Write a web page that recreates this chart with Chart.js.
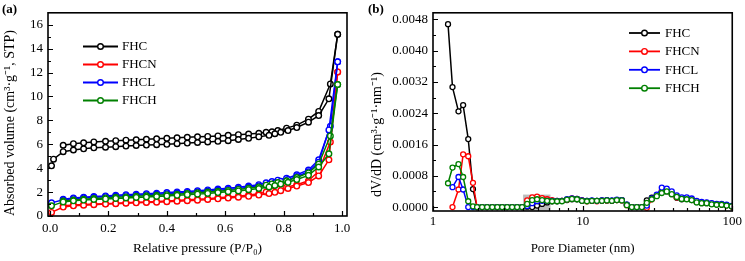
<!DOCTYPE html>
<html><head><meta charset="utf-8">
<script src="https://cdn.jsdelivr.net/npm/chart.js@4/dist/chart.umd.min.js"></script>
<style>
html,body{margin:0;padding:0;background:#fff;}
#wrap{position:relative;width:745px;height:261px;overflow:hidden;background:#fff;}
#ca{position:absolute;left:0;top:0;}
#cb{position:absolute;left:370px;top:0;}
.lab{position:absolute;font:bold 13px 'Liberation Serif',serif;color:#000;}
</style></head><body>
<div id="wrap">
<canvas id="ca" width="370" height="261"></canvas>
<canvas id="cb" width="375" height="261"></canvas>
<div class="lab" style="left:2px;top:1px">(a)</div>
<div class="lab" style="left:368px;top:1px">(b)</div>
</div>
<script>
// ---------- data ----------
const seriesNames = ['FHC', 'FHCN', 'FHCL', 'FHCH'];
const seriesColors = ['#000000', '#ff0000', '#0000ff', '#008000'];

// (a) N2 isotherms: adsorption and desorption branches
const pAds = [0.005, 0.012, 0.045, 0.08, 0.115, 0.15, 0.19, 0.225, 0.26, 0.295, 0.33, 0.365, 0.40, 0.435, 0.47, 0.505, 0.54, 0.575, 0.61, 0.645, 0.68, 0.715, 0.75, 0.77, 0.79, 0.815, 0.845, 0.885, 0.92, 0.955, 0.985];
const pDes = [0.985, 0.96, 0.92, 0.885, 0.845, 0.81, 0.78, 0.76, 0.74, 0.715, 0.68, 0.645, 0.61, 0.575, 0.54, 0.505, 0.47, 0.435, 0.40, 0.365, 0.33, 0.295, 0.26, 0.225, 0.19, 0.15, 0.115, 0.08, 0.045];

const fhcAds  = [4.2, 4.75, 5.38, 5.52, 5.62, 5.7, 5.75, 5.8, 5.85, 5.9, 5.93, 5.97, 6.0, 6.05, 6.1, 6.15, 6.2, 6.25, 6.3, 6.4, 6.5, 6.62, 6.75, 6.88, 7.0, 7.15, 7.4, 7.85, 8.4, 9.8, 15.2];
const fhcDes  = [15.2, 11.05, 8.75, 8.1, 7.6, 7.35, 7.15, 7.05, 7.0, 6.92, 6.85, 6.8, 6.75, 6.7, 6.66, 6.62, 6.58, 6.54, 6.5, 6.46, 6.42, 6.38, 6.34, 6.3, 6.25, 6.2, 6.12, 6.05, 5.92];
const fhcnAds = [0.3, null, 0.75, 0.85, 0.9, 0.95, 1.0, 1.03, 1.07, 1.1, 1.13, 1.16, 1.2, 1.24, 1.28, 1.32, 1.38, 1.44, 1.5, 1.57, 1.65, 1.75, 1.88, 1.98, 2.12, 2.3, 2.5, 2.8, 3.35, 4.7, 12.05];
const fhcnDes = [12.05, 6.2, 3.75, 2.95, 2.62, 2.4, 2.22, 2.1, 2.0, 1.86, 1.75, 1.66, 1.58, 1.52, 1.45, 1.4, 1.35, 1.3, 1.26, 1.22, 1.18, 1.14, 1.1, 1.07, 1.03, 1.0, 0.96, 0.92, 0.85];
const fhclAds = [1.1, null, 1.35, 1.45, 1.52, 1.57, 1.62, 1.66, 1.7, 1.74, 1.78, 1.82, 1.87, 1.92, 1.97, 2.02, 2.08, 2.15, 2.22, 2.3, 2.4, 2.52, 2.66, 2.78, 2.9, 3.05, 3.3, 3.7, 4.5, 7.2, 12.9];
const fhclDes = [12.9, 7.5, 4.7, 3.85, 3.45, 3.15, 3.0, 2.88, 2.78, 2.62, 2.5, 2.4, 2.32, 2.25, 2.18, 2.12, 2.06, 2.01, 1.96, 1.91, 1.87, 1.82, 1.78, 1.73, 1.68, 1.63, 1.57, 1.5, 1.4];
const fhchAds = [0.85, null, 1.18, 1.27, 1.33, 1.38, 1.43, 1.47, 1.51, 1.55, 1.59, 1.63, 1.68, 1.73, 1.78, 1.83, 1.89, 1.96, 2.03, 2.1, 2.2, 2.3, 2.43, 2.55, 2.67, 2.82, 3.05, 3.4, 4.1, 5.2, 11.0];
const fhchDes = [11.0, 6.7, 4.35, 3.6, 3.22, 2.95, 2.8, 2.68, 2.58, 2.43, 2.32, 2.22, 2.14, 2.07, 2.0, 1.94, 1.88, 1.83, 1.78, 1.73, 1.69, 1.65, 1.6, 1.56, 1.51, 1.46, 1.4, 1.34, 1.25];

const xTicksA = [0, 0.2, 0.4, 0.6, 0.8, 1.0];
const yTicksA = [0, 2, 4, 6, 8, 10, 12, 14, 16];

// (b) pore size distribution
const poreD = [1.26, 1.35, 1.48, 1.59, 1.72, 1.85, 1.97, 2.13, 2.30, 2.49, 2.69, 2.90, 3.13, 3.38, 3.65, 3.94, 4.26, 4.60, 4.96, 5.36, 5.79, 6.25, 6.75, 7.28, 7.86, 8.49, 9.17, 9.90, 10.69, 11.54, 12.46, 13.46, 14.53, 15.69, 16.94, 18.29, 19.75, 21.33, 23.03, 24.87, 26.85, 28.99, 31.31, 33.81, 36.51, 39.42, 42.56, 45.96, 49.62, 53.58, 57.86, 62.47, 67.45, 72.83, 78.64, 84.92, 91.69, 99.01];
const fhcPSD  = [0.00468, 0.00307, 0.00245, 0.00261, 0.00174, 0.00046, 0, 0, 0, 0, 0, 0, 0, 0, 0, 0, 0.00001, 0, 0.00004, 0.00008, 0.00012, 0.00015, 0.00015, 0.00016, 0.00018, 0.0002, 0.0002, 0.00017, 0.00016, 0.00016, 0.00016, 0.00017, 0.00017, 0.00016, 0.00018, 0.00018, 0.00006, 0, 0, 0, 0.00017, 0.00024, 0.0003, 0.00038, 0.0004, 0.00033, 0.00024, 0.0002, 0.00021, 0.00018, 0.00013, 0.0001, 0.0001, 0.00008, 0.00007, 0.00006, 0.00005, 0.00002];
const fhcnPSD = [null, 0, 0.00045, 0.00135, 0.0013, 0.00062, 0, 0, 0, 0, 0, 0, 0, 0, 0, 0, 0.00017, 0.00025, 0.00027, 0.00023, 0.0002, 0.00018, 0.00016, 0.00016, 0.00019, 0.00022, 0.00021, 0.00017, 0.00015, 0.00016, 0.00015, 0.00016, 0.00017, 0.00016, 0.00018, 0.00017, 0.00005, 0, 0, 0, -0.00002, 0.0002, 0.0003, 0.00042, 0.00042, 0.00035, 0.00025, 0.00022, 0.00023, 0.0002, 0.00014, 0.00011, 0.00011, 0.00009, 0.00007, 0.00007, 0.00005, 0.00002];
const fhclPSD = [null, 0.00051, 0.00077, 0.00045, 0, 0, 0, 0, 0, 0, 0, 0, 0, 0, 0, 0, 0.00003, 0.0001, 0.00015, 0.00016, 0.00016, 0.00016, 0.00016, 0.00016, 0.0002, 0.00022, 0.00021, 0.00017, 0.00016, 0.00017, 0.00016, 0.00017, 0.00018, 0.00017, 0.00019, 0.00018, 0.00006, 0, 0, 0, 0.00004, 0.00022, 0.00032, 0.0005, 0.00047, 0.0004, 0.0003, 0.00025, 0.00025, 0.00022, 0.00016, 0.00013, 0.00012, 0.0001, 0.00008, 0.00008, 0.00006, 0.00003];
const fhchPSD = [0.00061, 0.00101, 0.0011, 0.00077, 0.00015, 0.00002, 0, 0, 0, 0, 0, 0, 0, 0, 0, 0, 0.00008, 0.00018, 0.0002, 0.00018, 0.00016, 0.00015, 0.00015, 0.00015, 0.00019, 0.00021, 0.0002, 0.00016, 0.00015, 0.00016, 0.00016, 0.00016, 0.00017, 0.00016, 0.00018, 0.00017, 0.00005, 0, 0, 0, 0.00011, 0.0002, 0.00028, 0.00036, 0.0004, 0.00033, 0.00026, 0.00021, 0.0002, 0.00018, 0.00012, 0.0001, 0.0001, 0.00007, 0.00006, 0.00006, 0.00004, 0.00002];

const xTicksB = [1, 10, 100];
const yTicksB = [0, 0.0008, 0.0016, 0.0024, 0.0032, 0.0040, 0.0048];

// ---------- helpers ----------
const FONT = "'Liberation Serif', 'Times New Roman', serif";
function pts(xs, ys) { return xs.map((x, k) => ({ x: x, y: ys[k] })); }
function ds(label, color, data, order) {
  return {
    label: label, data: data, order: order,
    borderColor: color, backgroundColor: color,
    borderWidth: 1.5, pointRadius: 2.8, pointBorderWidth: 1.4,
    pointBackgroundColor: '#ffffff', pointBorderColor: color,
    spanGaps: true, tension: 0, fill: false
  };
}

const grayBox = { x0: 4.0, x1: 6.1, y1: 0.00032 };

const framePlugin = {
  id: 'frame',
  beforeDatasetsDraw(chart, args, o) {
    if (!o.useBox) return;
    const { ctx, chartArea } = chart;
    const xs = chart.scales.x, ys = chart.scales.y;
    const x0 = xs.getPixelForValue(grayBox.x0), x1 = xs.getPixelForValue(grayBox.x1);
    const y1 = ys.getPixelForValue(grayBox.y1);
    ctx.save();
    ctx.fillStyle = '#bcbcbc';
    ctx.fillRect(x0, y1, x1 - x0, chartArea.bottom - y1);
    ctx.restore();
  },
  afterDraw(chart, args, o) {
    const { ctx, chartArea: { left, right, top, bottom } } = chart;
    const xs = chart.scales.x, ys = chart.scales.y;
    ctx.save();
    ctx.strokeStyle = '#000';
    ctx.lineWidth = 1.2;
    ctx.beginPath();
    (o.xMajor || []).forEach(v => { const p = Math.round(xs.getPixelForValue(v)) + 0.5; ctx.moveTo(p, bottom); ctx.lineTo(p, bottom - 5); });
    (o.xMinor || []).forEach(v => { const p = Math.round(xs.getPixelForValue(v)) + 0.5; ctx.moveTo(p, bottom); ctx.lineTo(p, bottom - 3); });
    (o.yMajor || []).forEach(v => { const p = Math.round(ys.getPixelForValue(v)) + 0.5; ctx.moveTo(left, p); ctx.lineTo(left + 5, p); });
    (o.yMinor || []).forEach(v => { const p = Math.round(ys.getPixelForValue(v)) + 0.5; ctx.moveTo(left, p); ctx.lineTo(left + 3, p); });
    ctx.stroke();
    ctx.lineWidth = 1.6;
    ctx.strokeRect(left, top, right - left, bottom - top);
    // legend
    const L = o.legend;
    if (L) {
      ctx.font = '13px ' + FONT;
      ctx.textBaseline = 'middle';
      ctx.textAlign = 'left';
      seriesNames.forEach((name, i) => {
        const y = L.y + i * L.dy;
        ctx.strokeStyle = seriesColors[i];
        ctx.lineWidth = 1.8;
        ctx.beginPath(); ctx.moveTo(L.x, y); ctx.lineTo(L.x + L.len, y); ctx.stroke();
        ctx.beginPath(); ctx.arc(L.x + L.len / 2, y, 2.8, 0, Math.PI * 2);
        ctx.fillStyle = '#fff'; ctx.fill(); ctx.lineWidth = 1.4; ctx.stroke();
        ctx.fillStyle = '#000';
        ctx.fillText(name, L.tx, y + 0.5);
      });
    }
    ctx.restore();
  }
};

// ---------- chart (a) ----------
const adsSets = [fhcAds, fhcnAds, fhclAds, fhchAds];
const desSets = [fhcDes, fhcnDes, fhclDes, fhchDes];
const dsA = [];
seriesNames.forEach((n, i) => {
  dsA.push(ds(n, seriesColors[i], pts(pAds, adsSets[i]), 3 - i));
  dsA.push(ds(n + ' desorption', seriesColors[i], pts(pDes, desSets[i]), 3 - i));
});

new Chart(document.getElementById('ca'), {
  type: 'line',
  data: { datasets: dsA },
  plugins: [framePlugin],
  options: {
    responsive: false, animation: false, events: [], devicePixelRatio: 1,
    layout: { padding: { top: 4, right: 23, left: 0, bottom: 0 } },
    plugins: {
      legend: { display: false }, tooltip: { enabled: false },
      frame: {
        useBox: false,
        xMajor: xTicksA, xMinor: [0.1, 0.3, 0.5, 0.7, 0.9],
        yMajor: yTicksA, yMinor: [1, 3, 5, 7, 9, 11, 13, 15],
        legend: { x: 83, y: 46.5, dy: 18, len: 35, tx: 122 }
      }
    },
    scales: {
      x: {
        type: 'linear', min: -0.007, max: 1.017,
        afterBuildTicks: s => { s.ticks = xTicksA.map(v => ({ value: v })); },
        afterFit: s => { s.height = 45; },
        grid: { display: false, drawTicks: false }, border: { display: false },
        ticks: { padding: 5, color: '#000', font: { family: FONT, size: 13 }, maxRotation: 0, autoSkip: false, callback: v => Number(v).toFixed(1) },
        title: { display: true, text: 'Relative pressure (P/P\u2080)', color: '#000', font: { family: FONT, size: 13.5 }, padding: { top: 0, bottom: 4 } }
      },
      y: {
        type: 'linear', min: 0, max: 17,
        afterBuildTicks: s => { s.ticks = yTicksA.map(v => ({ value: v })); },
        afterFit: s => { s.width = 48; },
        grid: { display: false, drawTicks: false }, border: { display: false },
        ticks: { padding: 5, color: '#000', font: { family: FONT, size: 13 }, autoSkip: false, callback: v => String(v) },
        title: { display: true, align: 'start', text: 'Absorbed volume (cm\u00B3\u00B7g\u207B\u00B9, STP)', color: '#000', font: { family: FONT, size: 14, lineHeight: 1 }, padding: { top: 3, bottom: 0 } }
      }
    }
  }
});

// ---------- chart (b) ----------
const psdSets = [fhcPSD, fhcnPSD, fhclPSD, fhchPSD];
const dsB = seriesNames.map((n, i) => {
  const d = ds(n, seriesColors[i], pts(poreD, psdSets[i]), 3 - i);
  d.pointRadius = 2.5; d.pointBorderWidth = 1.3;
  return d;
});
const logMinor = [];
[1, 10].forEach(dec => { for (let k = 2; k <= 9; k++) logMinor.push(k * dec); });

new Chart(document.getElementById('cb'), {
  type: 'line',
  data: { datasets: dsB },
  plugins: [framePlugin],
  options: {
    responsive: false, animation: false, events: [], devicePixelRatio: 1,
    layout: { padding: { top: 3, right: 12, left: 0, bottom: 0 } },
    plugins: {
      legend: { display: false }, tooltip: { enabled: false },
      frame: {
        useBox: true,
        xMajor: xTicksB, xMinor: logMinor,
        yMajor: yTicksB, yMinor: [0.0004, 0.0012, 0.0020, 0.0028, 0.0036, 0.0044],
        legend: { x: 259, y: 33, dy: 18.4, len: 31, tx: 295 }
      }
    },
    scales: {
      x: {
        type: 'logarithmic', min: 1, max: 100,
        afterBuildTicks: s => { s.ticks = xTicksB.map(v => ({ value: v })); },
        afterFit: s => { s.height = 50; },
        grid: { display: false, drawTicks: false }, border: { display: false },
        ticks: { padding: 3, color: '#000', font: { family: FONT, size: 13 }, maxRotation: 0, autoSkip: false, callback: v => String(v) },
        title: { display: true, text: 'Pore Diameter (nm)', color: '#000', font: { family: FONT, size: 13 }, padding: { top: 0, bottom: 5 } }
      },
      y: {
        type: 'linear', min: -0.0001, max: 0.00497,
        afterBuildTicks: s => { s.ticks = yTicksB.map(v => ({ value: v })); },
        afterFit: s => { s.width = 63; },
        grid: { display: false, drawTicks: false }, border: { display: false },
        ticks: { padding: 5, color: '#000', font: { family: FONT, size: 13 }, autoSkip: false, callback: v => Number(v).toFixed(4) },
        title: { display: true, align: 'start', text: '\u2002\u2002dV/dD (cm\u00B3\u00B7g\u207B\u00B9\u00B7nm\u207B\u00B9)', color: '#000', font: { family: FONT, size: 14, lineHeight: 1 }, padding: { top: 0, bottom: 0 } }
      }
    }
  }
});
</script>
</body></html>
